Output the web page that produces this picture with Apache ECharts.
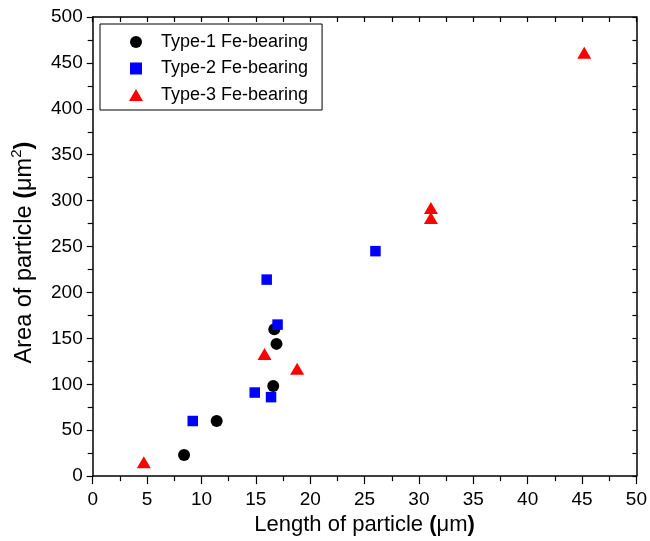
<!DOCTYPE html>
<html>
<head>
<meta charset="utf-8">
<script src="https://cdn.jsdelivr.net/npm/echarts@6/dist/echarts.min.js"></script>
<style>
  html, body { margin: 0; padding: 0; background: #fff; }
  #chart { width: 650px; height: 541px; }
</style>
</head>
<body>
<div id="chart"></div>
<script>
// Particle length (µm) vs. area (µm²) for three Fe-bearing particle types
const seriesNames = ['Type-1 Fe-bearing', 'Type-2 Fe-bearing', 'Type-3 Fe-bearing'];

const type1Points = [
  [8.4, 23], [11.4, 60], [16.6, 98], [16.9, 144], [16.7, 160]
];
const type2Points = [
  [9.2, 60], [14.9, 91], [16.4, 86], [16.0, 214], [17.0, 165], [26.0, 245]
];
const type3Points = [
  [4.7, 15], [15.8, 133], [18.8, 117], [31.1, 292], [31.1, 281], [45.2, 461]
];

const xRange = { min: 0, max: 50, step: 5 };
const yRange = { min: 0, max: 500, step: 50 };

const FONT = '"Liberation Sans", Arial, sans-serif';
const INK = '#000';

const chart = echarts.init(document.getElementById('chart'), null, { renderer: 'canvas' });

function frameAxis(extra) {
  return Object.assign({
    type: 'value',
    splitLine: { show: false },
    axisLine: { show: true, onZero: false, lineStyle: { color: INK, width: 1.5 } },
    axisTick: { show: true, inside: true, length: 5, lineStyle: { color: INK, width: 1.2 } },
    minorTick: { show: true, splitNumber: 2, length: 5, lineStyle: { color: INK, width: 1.2 } },
    axisLabel: { show: false }
  }, extra);
}

const option = {
  backgroundColor: '#fff',
  animation: false,
  textStyle: { fontFamily: FONT, color: INK },
  grid: { left: 92.7, right: 13.3, top: 17, bottom: 64, containLabel: false },
  legend: {
    left: 100, top: 24,
    orient: 'vertical',
    padding: [9, 14, 6, 29],
    itemGap: 8.5,
    itemWidth: 40, itemHeight: 12,
    symbolKeepAspect: true,
    borderColor: INK, borderWidth: 1,
    textStyle: { fontSize: 18, color: INK, fontFamily: FONT },
    data: [
      { name: seriesNames[0], icon: 'circle' },
      { name: seriesNames[1], icon: 'path://M1,1L11,1L11,11L1,11Z' },
      { name: seriesNames[2], icon: 'path://M7,0L14,12L0,12Z' }
    ]
  },
  xAxis: [
    frameAxis({
      position: 'bottom',
      min: xRange.min, max: xRange.max, interval: xRange.step,
      axisTick: { show: true, inside: false, length: 8, lineStyle: { color: INK, width: 1.2 } },
      minorTick: { show: true, splitNumber: 2, length: 5, lineStyle: { color: INK, width: 1.2 } },
      axisLabel: { show: true, margin: 14, fontSize: 19, color: INK, fontFamily: FONT },
      name: 'Length of particle {b|(}μm{b|)}',
      nameLocation: 'middle',
      nameGap: 33,
      nameTextStyle: {
        fontSize: 22, color: INK, fontFamily: FONT,
        rich: { b: { fontSize: 22, fontWeight: 'bold', fontFamily: FONT, color: INK } }
      }
    }),
    frameAxis({ position: 'top', min: xRange.min, max: xRange.max, interval: xRange.step })
  ],
  yAxis: [
    frameAxis({
      position: 'left',
      min: yRange.min, max: yRange.max, interval: yRange.step,
      axisTick: { show: true, inside: false, length: 6, lineStyle: { color: INK, width: 1.2 } },
      minorTick: { show: true, splitNumber: 2, length: 5, lineStyle: { color: INK, width: 1.2 } },
      axisLabel: { show: true, margin: 10, fontSize: 19, color: INK, fontFamily: FONT },
      name: 'Area of particle {b|(}μm{sup|2}{b|)}',
      nameLocation: 'middle',
      nameGap: 54,
      nameTextStyle: {
        fontSize: 23.5, color: INK, fontFamily: FONT,
        padding: [0, 12, 0, 0],
        rich: {
          b: { fontSize: 23.5, fontWeight: 'bold', fontFamily: FONT, color: INK },
          sup: { fontSize: 15, fontFamily: FONT, color: INK, verticalAlign: 'top', padding: [0, 0, 14, 0] }
        }
      }
    }),
    frameAxis({ position: 'right', min: yRange.min, max: yRange.max, interval: yRange.step,
      axisTick: { show: true, inside: true, length: 4, lineStyle: { color: INK, width: 1.2 } },
      minorTick: { show: true, splitNumber: 2, length: 4, lineStyle: { color: INK, width: 1.2 } } })
  ],
  series: [
    {
      name: seriesNames[0], type: 'scatter', xAxisIndex: 0, yAxisIndex: 0,
      symbol: 'circle', symbolSize: 12,
      itemStyle: { color: '#000000', opacity: 1 },
      data: type1Points
    },
    {
      name: seriesNames[1], type: 'scatter', xAxisIndex: 0, yAxisIndex: 0,
      symbol: 'rect', symbolSize: 10.5,
      itemStyle: { color: '#0000ff', opacity: 1 },
      data: type2Points
    },
    {
      name: seriesNames[2], type: 'scatter', xAxisIndex: 0, yAxisIndex: 0,
      symbol: 'triangle', symbolSize: [14, 12],
      itemStyle: { color: '#ff0000', opacity: 1 },
      data: type3Points
    }
  ]
};

chart.setOption(option);
</script>
</body>
</html>
